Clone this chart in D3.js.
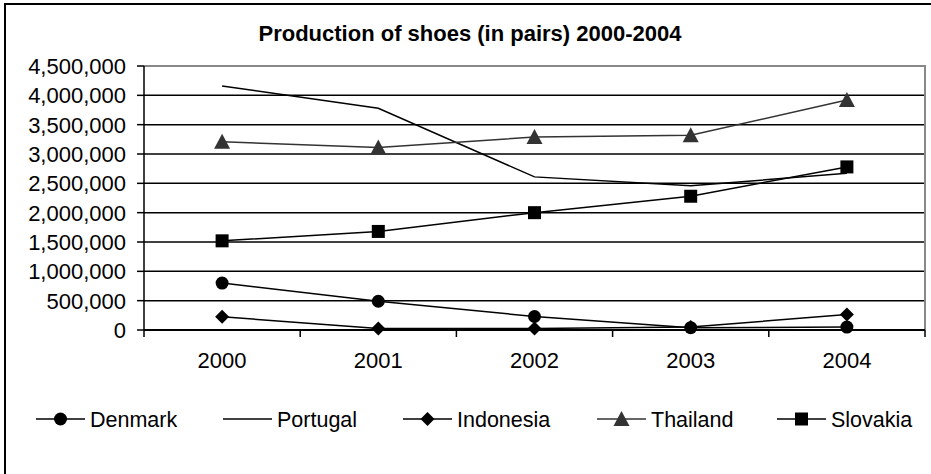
<!DOCTYPE html>
<html>
<head>
<meta charset="utf-8">
<script src="https://cdn.jsdelivr.net/npm/d3@7"></script>
<style>
  html, body { margin: 0; padding: 0; background: #fff; }
  svg { display: block; font-family: Arial, "Liberation Sans", sans-serif; }
</style>
</head>
<body>
<svg id="chart" width="931" height="474"></svg>
<script>
const years = ["2000", "2001", "2002", "2003", "2004"];
const denmark = [800000, 490000, 230000, 40000, 50000];
const portugal = [4160000, 3780000, 2610000, 2460000, 2670000];
const indonesia = [225000, 25000, 25000, 50000, 265000];
const thailand = [3210000, 3110000, 3290000, 3320000, 3920000];
const slovakia = [1520000, 1680000, 2000000, 2280000, 2780000];
const yTicks = [0, 500000, 1000000, 1500000, 2000000, 2500000, 3000000, 3500000, 4000000, 4500000];

const series = [
  { name: "Denmark", values: denmark, marker: "circle", color: "#000" },
  { name: "Portugal", values: portugal, marker: null, color: "#000" },
  { name: "Indonesia", values: indonesia, marker: "diamond", color: "#000" },
  { name: "Thailand", values: thailand, marker: "triangle", color: "#333" },
  { name: "Slovakia", values: slovakia, marker: "square", color: "#000" },
];

const svg = d3.select("#chart");
const plot = { left: 144, right: 925, top: 66, bottom: 330 };

// outer chart frame (runs off the right/bottom edge in the original)
svg.append("rect")
  .attr("x", 5).attr("y", 4).attr("width", 960).attr("height", 500)
  .attr("fill", "none").attr("stroke", "#000").attr("stroke-width", 2);

svg.append("text")
  .attr("x", 470).attr("y", 41)
  .attr("text-anchor", "middle")
  .attr("font-size", 22).attr("font-weight", "bold")
  .text("Production of shoes (in pairs) 2000-2004");

const x = d3.scalePoint().domain(years).range([plot.left, plot.right]).padding(0.5);
const xBand = d3.scaleBand().domain(years).range([plot.left, plot.right]);
const y = d3.scaleLinear().domain([0, 4500000]).range([plot.bottom, plot.top]);

const fmt = d3.format(",");

// gridlines
svg.append("g").selectAll("line")
  .data(yTicks.filter((d) => d > 0 && d < 4500000))
  .join("line")
  .attr("x1", plot.left).attr("x2", plot.right)
  .attr("y1", (d) => y(d)).attr("y2", (d) => y(d))
  .attr("stroke", "#000").attr("stroke-width", 1.5);

// plot border: top + right gray
svg.append("path")
  .attr("d", `M${plot.left},${y(4500000)}H${plot.right}V${plot.bottom}`)
  .attr("fill", "none").attr("stroke", "#888").attr("stroke-width", 2);

// y axis
const yAxis = svg.append("g");
yAxis.append("line")
  .attr("x1", plot.left).attr("x2", plot.left)
  .attr("y1", plot.top).attr("y2", plot.bottom)
  .attr("stroke", "#000").attr("stroke-width", 1.5);
yAxis.selectAll("line.tick")
  .data(yTicks).join("line").attr("class", "tick")
  .attr("x1", plot.left - 7).attr("x2", plot.left)
  .attr("y1", (d) => y(d)).attr("y2", (d) => y(d))
  .attr("stroke", "#000").attr("stroke-width", 1.5);
yAxis.selectAll("text")
  .data(yTicks).join("text")
  .attr("x", plot.left - 18).attr("y", (d) => y(d))
  .attr("dy", "0.36em").attr("text-anchor", "end")
  .attr("font-size", 22)
  .text((d) => fmt(d));

// x axis
const xAxis = svg.append("g");
xAxis.append("line")
  .attr("x1", plot.left).attr("x2", plot.right)
  .attr("y1", plot.bottom).attr("y2", plot.bottom)
  .attr("stroke", "#000").attr("stroke-width", 2);
const bounds = years.map((d) => xBand(d)).concat([plot.right]);
xAxis.selectAll("line.tick")
  .data(bounds).join("line").attr("class", "tick")
  .attr("x1", (d) => d).attr("x2", (d) => d)
  .attr("y1", plot.bottom).attr("y2", plot.bottom + 7)
  .attr("stroke", "#000").attr("stroke-width", 1.5);
xAxis.selectAll("text")
  .data(years).join("text")
  .attr("x", (d) => x(d)).attr("y", 368)
  .attr("text-anchor", "middle")
  .attr("font-size", 22)
  .text((d) => d);

function drawMarker(sel, kind, color) {
  if (kind === "circle") {
    sel.append("circle").attr("r", 6.5).attr("fill", color);
  } else if (kind === "diamond") {
    sel.append("path").attr("d", "M0,-7L7,0L0,7L-7,0Z").attr("fill", color);
  } else if (kind === "triangle") {
    sel.append("path").attr("d", "M0,-8L8,7L-8,7Z").attr("fill", color);
  } else if (kind === "square") {
    sel.append("rect").attr("x", -6.5).attr("y", -6.5).attr("width", 13).attr("height", 13).attr("fill", color);
  }
}

const line = d3.line().x((d, i) => x(years[i])).y((d) => y(d));

series.forEach((s) => {
  const g = svg.append("g");
  g.append("path")
    .attr("d", line(s.values))
    .attr("fill", "none").attr("stroke", s.color).attr("stroke-width", 1.5);
  if (s.marker) {
    s.values.forEach((v, i) => {
      const m = g.append("g").attr("transform", `translate(${x(years[i])},${y(v)})`);
      drawMarker(m, s.marker, s.color);
    });
  }
});

// legend
const legendX = [36, 223, 403, 597, 777];
const legendY = 419;
series.forEach((s, i) => {
  const g = svg.append("g").attr("transform", `translate(${legendX[i]},${legendY})`);
  g.append("line").attr("x1", 0).attr("x2", 49).attr("y1", 0).attr("y2", 0)
    .attr("stroke", s.color).attr("stroke-width", 1.5);
  if (s.marker) {
    const m = g.append("g").attr("transform", "translate(24.5,0)");
    drawMarker(m, s.marker, s.color);
  }
  g.append("text")
    .attr("x", 54).attr("y", 0).attr("dy", "0.36em")
    .attr("font-size", 21.5)
    .text(s.name);
});
</script>
</body>
</html>
